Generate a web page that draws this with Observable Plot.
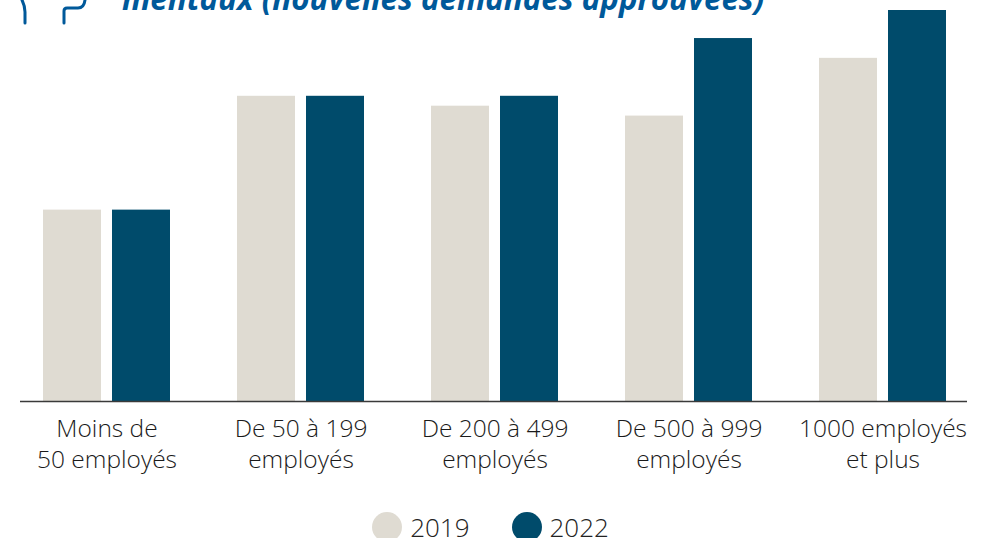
<!DOCTYPE html>
<html>
<head>
<meta charset="utf-8">
<script src="https://cdn.jsdelivr.net/npm/d3@7"></script>
<script src="https://cdn.jsdelivr.net/npm/@observablehq/plot@0.6"></script>
<style>
  html, body { margin: 0; padding: 0; background: #fff; overflow: hidden; }
  body { width: 989px; height: 538px; position: relative; font-family: "Open Sans", sans-serif; }
  #title { position: absolute; left: 122px; top: -17px; font-size: 31.3px; font-weight: 700; font-style: italic;
           color: #00599a; white-space: nowrap; line-height: 1; z-index: 2; }
  #icon { position: absolute; left: 0; top: 0; z-index: 2; }
  #legend { display: flex; justify-content: center; align-items: center; gap: 42px; height: 30px;
            padding-top: 0px; padding-right: 8px; font-size: 26px; color: #222; }
  .item { display: flex; align-items: center; gap: 8px; }
  .sw { width: 30px; height: 30px; border-radius: 50%; display: inline-block; }
</style>
</head>
<body>
<svg id="icon" width="100" height="30">
  <path d="M22,0 Q25,6 25,12 L25,23" fill="none" stroke="#00599a" stroke-width="3" stroke-linecap="round"/>
  <path d="M64,23 L64,11 Q64,8 67,8 L78,8 Q84,8 85,0" fill="none" stroke="#00599a" stroke-width="3" stroke-linecap="round"/>
</svg>
<div id="title">mentaux (nouvelles demandes approuvées)</div>
<div id="chart"></div>
<div id="legend"></div>
<script>
const categories = ["Moins de\n50 employés", "De 50 à 199\nemployés", "De 200 à 499\nemployés", "De 500 à 999\nemployés", "1000 employés\net plus"];
const years = ["2019", "2022"];
const values2019 = [11.6, 18.5, 17.9, 17.3, 20.8];
const values2022 = [11.6, 18.5, 18.5, 22.0, 23.7];
const colors = ["#dfdbd2", "#004b6b"];

const data = [];
categories.forEach((c, i) => {
  data.push({category: c, year: "2019", value: values2019[i]});
  data.push({category: c, year: "2022", value: values2022[i]});
});

const chart = Plot.plot({
  width: 989,
  height: 512,
  marginTop: 10,
  marginBottom: 111,
  marginLeft: 20,
  marginRight: 22,
  style: {fontFamily: "'Open Sans', sans-serif", background: "transparent"},
  x: {type: "band", domain: categories, paddingInner: 0.345, paddingOuter: 0.113, align: 0.523, label: null},
  y: {domain: [0, 23.7], axis: null},
  color: {domain: years, range: colors},
  marks: [
    Plot.barY(data.filter(d => d.year === "2019"), {x: "category", y: "value", fill: "year", insetRight: 69}),
    Plot.barY(data.filter(d => d.year === "2022"), {x: "category", y: "value", fill: "year", insetLeft: 69}),
    Plot.ruleY([0], {stroke: "#3a3a3a", strokeWidth: 1.6}),
    Plot.axisX({tickSize: 0, tickPadding: 13, fontSize: 24.5, fontWeight: 300, lineHeight: 1.27, fill: "#1a1a1a", label: null})
  ]
});
document.getElementById("chart").appendChild(chart);

const legend = document.getElementById("legend");
years.forEach((y, i) => {
  const it = document.createElement("div");
  it.className = "item";
  const sw = document.createElement("span");
  sw.className = "sw";
  sw.style.background = colors[i];
  const t = document.createElement("span");
  t.textContent = y;
  t.style.fontWeight = "300";
  it.appendChild(sw); it.appendChild(t);
  legend.appendChild(it);
});
</script>
</body>
</html>
